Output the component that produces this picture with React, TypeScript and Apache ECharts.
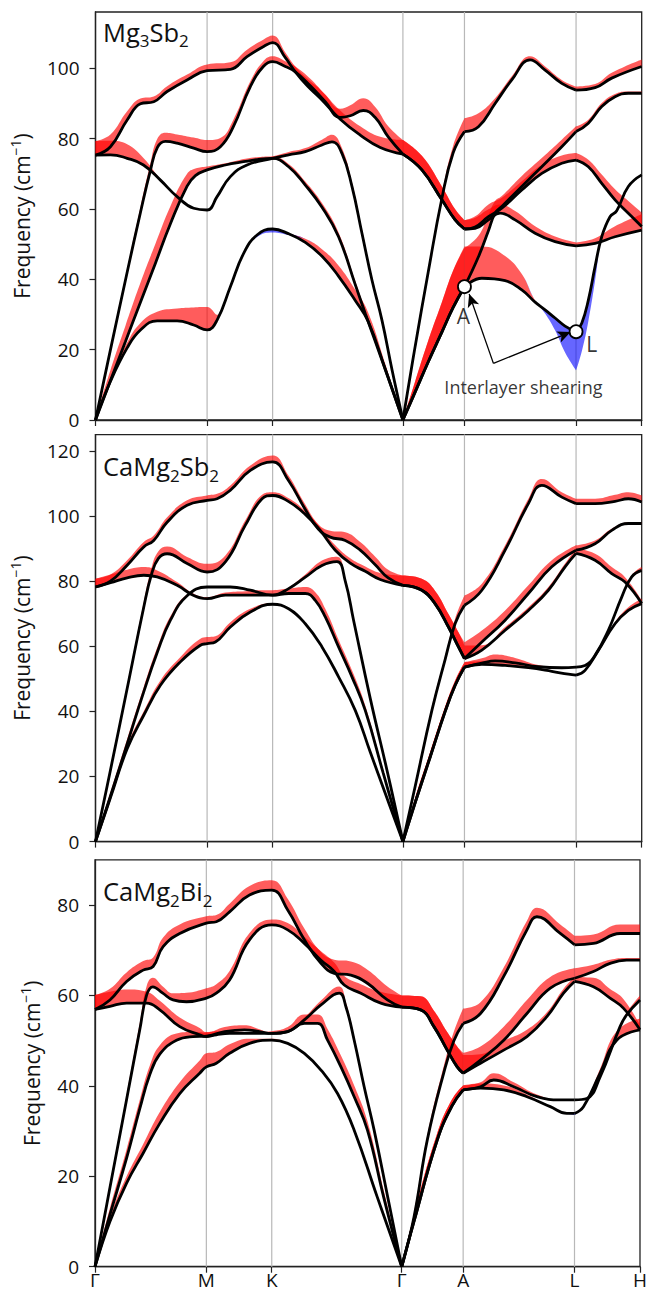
import React, { useEffect, useRef } from 'react';
import * as echarts from 'echarts';

// [path coordinate, frequency (cm^-1), projected weight: >0 red, <0 blue]
type BandPoint = [number, number, number];

const K_POINTS = [0, 111.7, 177.3, 307.7, 369.3, 481, 546.7];
const K_LABELS = ['Γ', 'M', 'K', 'Γ', 'A', 'L', 'H'];
// bands are drawn piecewise between these path points (kinks at Γ, A, L)
const SEGMENT_BREAKS = [0, 307.7, 369.3, 481, 546.7];
const Y_MAX = [116, 125, 90];
const Y_TICKS = [
  [0, 20, 40, 60, 80, 100],
  [0, 20, 40, 60, 80, 100, 120],
  [0, 20, 40, 60, 80],
];

// ---------------- Mg3Sb2 ----------------
const MG3SB2_BAND_1: BandPoint[] = [
  [0, 0, 0.3], [15, 11, 0.8], [31.7, 20.5, 1.5], [45, 25.6, 2], [61.7, 28.2, 2.6], [81.7, 28.2, 3.5],
  [98.3, 27, 5], [111.7, 25.6, 6.5], [121.7, 28.4, 1.5], [135, 37.9, 0.3], [148.3, 47.4, 0],
  [161.7, 52.6, -0.6], [177.3, 54.3, -1], [193, 53, -0.4], [210, 50.5, 1], [227, 46.5, 2], [243, 41, 3],
  [260, 34, 3], [273, 28, 2.5], [290, 14.5, 1.5], [307.7, 0, 0],
  [320, 8, 3], [333, 16.5, 6], [346.7, 25, 8.5], [358, 32, 10.5], [369.3, 37.9, 11.4],
  [386.7, 40.3, 9], [410, 39.6, 7], [426.7, 37, 4.5], [440, 33.5, 0.5], [450, 31.3, -1], [460, 29, -3.5],
  [470, 26.7, -7.5], [481, 25.1, -11],
  [486.7, 27.5, -8], [493.3, 34.1, -6], [500, 43.6, -4], [506.7, 52.1, 0], [515, 57.8, 0], [521.7, 59.5, 0],
  [533.3, 66.4, 0], [546.7, 69.7, 0],
];
const MG3SB2_BAND_2: BandPoint[] = [
  [0, 0, 0.5], [15, 11.2, 3], [30, 22.3, 4.5], [45, 33.5, 5.5], [60, 44.6, 5.5], [75, 55.8, 5], [91.7, 66.5, 3.5],
  [100, 69.5, 2], [111.7, 71.1, 1], [130, 72.5, 0.5], [150, 73.5, 0.8], [165, 74.2, 0.6], [177.3, 74.4, 0.5],
  [193.3, 72, 0.8], [210, 66.8, 1], [226.7, 60.5, 1.2], [243.3, 52.1, 1.2], [260, 38.5, 1], [270, 30.3, 1],
  [288, 16, 0.8], [307.7, 0, 0],
  [320, 8, 3], [333, 16.5, 6], [346.7, 25, 8.5], [358, 32, 10.5], [369.3, 37.9, 11],
  [383.3, 46.4, 6], [393.3, 53.8, 4.5], [400, 58.8, 3.5], [406.7, 60.7, 3], [426.7, 66.4, 3], [446.7, 72, 2.5],
  [466.7, 77.7, 2], [481, 82, 1.5],
  [493.3, 84.4, 1], [506.7, 89.1, 1], [520, 91.9, 0.8], [533.3, 92.9, 0.5], [546.7, 92.9, 0.5],
];
const MG3SB2_BAND_3: BandPoint[] = [
  [0, 0, 0.5], [15, 20, 0.8], [31.7, 42, 1], [45, 59, 1.5], [55, 71, 2], [62, 77.5, 2.5], [70, 79.2, 2.5],
  [81.7, 78.7, 2.5], [98.3, 77.3, 3], [111.7, 76.3, 3.3], [125, 77.7, 2.5], [138, 83.4, 2], [155, 94.8, 1.5],
  [168, 100.5, 1.5], [177.3, 101.9, 1.5], [190, 100.5, 1.5], [200, 99, 1.5], [215, 95, 2], [230, 90.5, 2],
  [245, 86, 2.5], [255, 86.5, 3], [268, 88, 3.5], [280, 86, 3], [293, 80.5, 3], [307.7, 75.6, 4],
  [326.7, 71.1, 4], [346.7, 62.6, 3.8], [360, 56.9, 3], [369.3, 54.3, 2.5],
  [380, 54.9, 3], [393.3, 57.8, 3.5], [406.7, 60.2, 3], [426.7, 65.4, 2.5], [446.7, 70.1, 2.5],
  [466.7, 73, 2.2], [481, 73.9, 2],
  [493.3, 72, 2], [506.7, 67.3, 2.5], [520, 62.6, 3], [533.3, 58.8, 3.5], [546.7, 55, 4],
];
const MG3SB2_BAND_4: BandPoint[] = [
  [0, 75.3, 4], [15, 75.4, 4], [31.7, 74.4, 4], [48, 72.5, 2], [65, 68.2, 0.3], [81.7, 63.5, 0],
  [98.3, 60.2, 0], [111.7, 59.7, 0], [121.7, 63.5, 0], [135, 69.2, 0], [151.7, 72.5, 0.3], [177.3, 74.4, 0.5],
  [193.3, 75.4, 0.8], [210, 76.3, 1], [226.7, 78.2, 1.5], [236.7, 79.1, 2], [246.7, 75.8, 1.5],
  [256.7, 66.4, 1.2], [266.7, 53.1, 1.2], [276.7, 39.8, 1], [286.7, 28.4, 1], [297, 14, 0.5], [307.7, 0, 0],
  [320, 21, 1], [333, 42, 1], [346.7, 63, 1.2], [358, 76, 2], [369.3, 82, 3.8],
  [383.3, 83.4, 3.8], [400, 90, 1.5], [416.7, 96.7, 1], [435, 102.4, 1], [450, 99.5, 1], [466.7, 95.7, 1],
  [481, 93.8, 1],
  [500, 94.5, 1], [516.7, 97.2, 1.5], [546.7, 100.5, 2],
];
const MG3SB2_BAND_5: BandPoint[] = [
  [0, 75.3, 4], [15, 77.7, 3.5], [31.7, 85.3, 2.5], [45, 89.9, 1.5], [58.3, 90.5, 1.5], [71.7, 93.4, 1.5],
  [91.7, 96.7, 1.5], [111.7, 99.3, 1.8], [135, 99.7, 2], [151.7, 103.3, 2], [168.3, 106.2, 2],
  [177.3, 107.3, 2], [190, 103, 1.5], [200, 99, 1.5], [212, 95, 2], [225, 91.5, 2.5], [245, 85.5, 2.5],
  [265, 81, 2.5], [285, 77.5, 3], [307.7, 75.6, 4],
  [326.7, 71.1, 4], [346.7, 62.6, 3.8], [360, 56.9, 3], [369.3, 54.3, 2.5],
  [380, 54.5, 3], [393.3, 56.9, 3], [405, 58.8, 2.5], [420, 56.9, 2.5], [440, 53.1, 2], [460, 50.7, 1.5],
  [481, 49.5, 1],
  [500, 50.2, 1.5], [520, 52.1, 3], [546.7, 54, 4.5],
];

// ---------------- CaMg2Sb2 ----------------
const CAMG2SB2_BAND_1: BandPoint[] = [
  [0, 0, 0.3], [15, 13.5, 0.8], [31.7, 28.5, 1], [48.3, 38.8, 1.2], [65, 48, 1.5], [85, 55.2, 1.5],
  [105, 60.3, 2], [111.7, 60.8, 2], [120, 61.3, 1.8], [135, 65.9, 1.5], [155, 70.5, 1], [177.3, 72.9, 0.3],
  [193.3, 71.5, 0], [210, 66.9, 0], [226.7, 59.8, 0], [243.3, 50.6, 0], [260, 40.3, 0], [275, 27.5, 0],
  [291, 14, 0], [307.7, 0, 0],
  [320, 12, 1.5], [335, 26, 1.5], [350, 40, 1.5], [360, 48, 1.5], [369.3, 53.6, 1.5],
  [386.7, 54.4, 1], [410, 54.1, 1], [433.3, 53.4, 0.5], [456.7, 52.3, 0], [473.3, 51.4, 0], [481, 51.1, -0.3],
  [490, 52.6, 0], [503.3, 58.7, 0], [520, 66.9, 0.5], [533.3, 71, 1], [546.7, 73.1, 1.5],
];
const CAMG2SB2_BAND_2: BandPoint[] = [
  [0, 0, 0.5], [15, 14, 1.2], [31.7, 30, 1.5], [48.3, 46, 1.5], [61.7, 58, 1.5], [75, 68, 1.2],
  [91.7, 75.5, 0.5], [111.7, 78.2, 0], [135, 78.2, 0], [155, 77.2, 0], [177.3, 75.7, 0], [193.3, 77.7, 0.3],
  [210, 81.2, 0.8], [226.7, 84.8, 1.5], [241.7, 86, 1.5], [250, 80, 1], [258.3, 68, 0.8], [275, 44, 0.5],
  [291.7, 22, 0.3], [307.7, 0, 0],
  [320, 12, 1.5], [335, 26, 1.5], [350, 40, 1.5], [360, 48, 1.5], [369.3, 53.6, 1.5],
  [386.7, 54.8, 1.5], [400, 55.5, 2], [420, 54.9, 1.5], [443.3, 53.7, 0.5], [466.7, 53.4, 0], [481, 53.6, 0],
  [490, 54.1, 0], [500, 57.2, 0], [513.3, 64.9, 0], [526.7, 75.1, 0], [536.7, 81.3, 0.5], [546.7, 83.3, 1],
];
const CAMG2SB2_BAND_3: BandPoint[] = [
  [0, 0, 0.5], [15, 22, 0.8], [31.7, 47, 1], [48.3, 72, 1.5], [56, 82, 2], [63, 87, 2.2], [71.7, 88.4, 2.2],
  [91.7, 85.4, 2], [111.7, 82.8, 2.5], [130, 85.9, 2], [150, 97.2, 1.5], [166.7, 105.3, 1.2],
  [177.3, 106.3, 1], [193, 104.5, 1], [210, 100.5, 1], [225, 95.5, 1], [240, 89.5, 1.5], [255, 85.5, 1.5],
  [270, 83, 1.5], [285, 80.5, 2], [307.7, 78.7, 3],
  [326.7, 77.2, 3.5], [340, 73, 4], [353.3, 65.9, 4], [363.3, 59.8, 4.5], [369.3, 56.2, 5],
  [386.7, 61.3, 3.5], [410, 68, 3], [433.3, 76.2, 2.5], [456.7, 84.4, 2], [481, 89.5, 1.5],
  [500, 91.5, 1], [516.7, 95.6, 0.5], [533.3, 97.7, 0.3], [546.7, 97.7, 0.3],
];
const CAMG2SB2_BAND_4: BandPoint[] = [
  [0, 78.2, 2.5], [15, 79.5, 2.5], [31.7, 81, 2.5], [48.3, 81.8, 2.5], [61.7, 81.3, 2], [81.7, 78.7, 1],
  [98.3, 75.6, 0.5], [111.7, 74.6, 0.5], [130, 75.7, 0.8], [150, 75.7, 1.2], [165, 75.7, 1.5],
  [177.3, 75.7, 1.5], [193.3, 76.2, 1.5], [210, 76.2, 2], [220, 74.1, 2.5], [230, 69, 2.5],
  [243.3, 59.8, 2.2], [256.7, 50.6, 2], [270, 40.3, 1.5], [288, 21, 1], [307.7, 0, 0],
  [320, 17, 1], [336.7, 40.3, 1], [350, 56, 1], [360, 67, 1.5], [369.3, 72.6, 3],
  [386.7, 77.2, 2], [410, 89.5, 1.5], [433.3, 103.8, 1.5], [446.7, 109.4, 2], [466.7, 105.8, 1.5],
  [481, 103.8, 1.5],
  [500, 103.8, 1.5], [520, 104.5, 2], [533.3, 105.3, 2], [546.7, 104.3, 2],
];
const CAMG2SB2_BAND_5: BandPoint[] = [
  [0, 78.2, 2.5], [15, 80, 2], [31.7, 84.9, 1.5], [48.3, 90.5, 1.5], [58.3, 92.5, 1.5], [71.7, 98.1, 1.5],
  [91.7, 103.3, 1.5], [111.7, 104.8, 1.5], [121.7, 105.3, 1.5], [135, 107.9, 1.5], [155, 114, 1.5],
  [177.3, 116.6, 2], [193, 111, 1.5], [210, 102, 1.5], [223, 96, 1.5], [235, 93.5, 2], [250, 92.5, 2.5],
  [265, 89.5, 2.5], [280, 85, 2.5], [293, 81, 2.5], [307.7, 78.7, 3],
  [326.7, 77.2, 3.5], [340, 73, 4], [353.3, 65.9, 4], [363.3, 59.8, 4.5], [369.3, 56.2, 4],
  [386.7, 58.8, 1.5], [410, 64.9, 1], [433.3, 71, 1], [453.3, 77.2, 1], [470, 84.4, 1], [481, 88.5, 1.5],
  [500, 86.4, 2], [516.7, 82.3, 2], [530, 79.7, 1.5], [546.7, 73.1, 1],
];

// ---------------- CaMg2Bi2 ----------------
const CAMG2BI2_BAND_1: BandPoint[] = [
  [0, 0, 0.3], [15, 10, 1], [31.7, 18.5, 1.5], [48.3, 25.1, 2], [65, 31.7, 2.5], [85, 38.3, 2.5],
  [105, 42.8, 2.8], [111.7, 44.2, 3], [121.7, 45, 2.5], [135, 47.2, 2], [155, 49.4, 1], [177.3, 50.1, 0.3],
  [193.3, 49.4, 0], [210, 47.2, 0], [226.7, 43.5, 0], [243.3, 38.3, 0], [260, 30.2, 0], [283, 15.5, 0],
  [307.7, 0, 0],
  [320, 10, 1.5], [343.3, 28, 1.5], [358, 35.5, 1.5], [369.3, 39.1, 1],
  [386.7, 39.5, 1], [410, 39.1, 1], [433.3, 37.6, 0.5], [456.7, 35.4, 0], [473.3, 33.9, 0], [481, 33.9, -0.3],
  [490, 35.4, 0], [506.7, 42.8, 1], [523.3, 50.1, 2], [546.7, 52.4, 2.5],
];
const CAMG2BI2_BAND_2: BandPoint[] = [
  [0, 0, 0.5], [15, 11.5, 1.5], [31.7, 24, 2], [45, 35, 2], [55, 42.5, 2], [65, 47, 2], [81.7, 50.1, 1.5],
  [98.3, 50.9, 1], [111.7, 51, 0.8], [130, 52, 1], [150, 52.4, 1], [165, 52, 0.5], [177.3, 51.6, 0],
  [193.3, 52, 0], [210, 54.6, 0.5], [226.7, 57.9, 1], [245, 60.5, 1.5], [251.7, 57.5, 1], [260, 50.1, 0.8],
  [270, 39.8, 0.5], [280, 30.2, 0.3], [294, 15, 0.2], [307.7, 0, 0],
  [320, 10, 1.5], [343.3, 28, 1.5], [358, 35.5, 1.5], [369.3, 39.1, 1],
  [386.7, 39.8, 1], [400, 41.3, 1.5], [420, 39.8, 1], [443.3, 37.6, 0.5], [466.7, 36.9, 0], [481, 36.9, 0],
  [493.3, 37.2, 0], [506.7, 42, 0], [526.7, 53.1, 0], [533.3, 55.7, 0.5], [546.7, 59, 1],
];
const CAMG2BI2_BAND_3: BandPoint[] = [
  [0, 0, 0.5], [15, 17.5, 0.8], [31.7, 37, 1], [45, 52.5, 1.5], [51.7, 60, 2], [58, 61.9, 2], [68, 60.5, 1.5],
  [78.3, 59, 1.5], [91.7, 58.6, 2], [111.7, 59.4, 2.2], [121.7, 60.5, 2], [135, 63.4, 2], [155, 72.3, 1.5],
  [177.3, 75.6, 1.2], [193.3, 74.5, 1.5], [210, 71.5, 1.5], [226.7, 67.8, 2], [240, 65.3, 2], [250, 62.3, 2],
  [266.7, 60.5, 2], [286.7, 58.3, 2.5], [307.7, 57.4, 2.6],
  [326.7, 56.8, 3], [340, 53.1, 3.5], [353.3, 47.9, 4], [363.3, 44.2, 4.5], [369.3, 42.8, 4.5],
  [386.7, 45.7, 3], [410, 50.1, 3], [433.3, 56, 3], [456.7, 61.6, 2.5], [481, 63.8, 2.2],
  [500, 65.3, 1.5], [516.7, 67.1, 0.8], [533.3, 67.8, 0.5], [546.7, 67.8, 0.5],
];
const CAMG2BI2_BAND_4: BandPoint[] = [
  [0, 56.9, 3.2], [15, 57.6, 3.2], [31.7, 58.3, 3], [51.7, 58.3, 2.5], [65, 56.8, 2], [85, 53.1, 2],
  [105, 51.3, 1.5], [111.7, 50.9, 1], [121.7, 51.3, 0.8], [135, 51.6, 0.5], [155, 51.6, 0.3],
  [177.3, 51.6, 0.5], [193.3, 52, 1], [210, 53.8, 2], [223.3, 53.8, 2], [233.3, 50.1, 2.5],
  [246.7, 44.2, 2.5], [260, 37.6, 2.5], [273.3, 30.2, 2], [290, 15, 1.5], [307.7, 0, 0],
  [320, 11, 1], [333.3, 28, 1], [350, 43, 1.5], [360, 50, 2], [369.3, 53.8, 3.3],
  [386.7, 56, 2.5], [410, 64.2, 2], [433.3, 74.5, 2], [443.3, 77.4, 2], [466.7, 73.7, 2], [481, 71.2, 2],
  [500, 71.5, 2], [526.7, 73.7, 2], [546.7, 73.7, 2],
];
const CAMG2BI2_BAND_5: BandPoint[] = [
  [0, 56.9, 3.2], [15, 59, 2.5], [31.7, 63.1, 2], [48.3, 65.6, 2], [58.3, 66.4, 2], [68.3, 70.8, 2],
  [85, 73.7, 2], [111.7, 76, 1.5], [121.7, 76.3, 1.5], [135, 78.5, 1.8], [155, 82.2, 2], [177.3, 83.3, 2.2],
  [193.3, 78.9, 2.5], [210, 72.3, 2.5], [226.7, 67.1, 2.5], [240, 64.9, 3], [256.7, 64.5, 3],
  [273.3, 62.7, 3], [293.3, 59, 3], [307.7, 57.4, 2.6],
  [326.7, 56.8, 3], [340, 53.1, 3.5], [353.3, 47.9, 4], [363.3, 44.2, 4.5], [369.3, 42.8, 4],
  [386.7, 45, 2], [410, 47.9, 2], [433.3, 50.9, 1.5], [453.3, 55.3, 1], [470, 60.5, 1], [481, 63.1, 1],
  [500, 61.9, 2], [516.7, 59.4, 2], [530, 57.2, 2], [546.7, 52.4, 1],
];

const PANEL_BANDS: BandPoint[][][] = [
  [MG3SB2_BAND_1, MG3SB2_BAND_2, MG3SB2_BAND_3, MG3SB2_BAND_4, MG3SB2_BAND_5],
  [CAMG2SB2_BAND_1, CAMG2SB2_BAND_2, CAMG2SB2_BAND_3, CAMG2SB2_BAND_4, CAMG2SB2_BAND_5],
  [CAMG2BI2_BAND_1, CAMG2BI2_BAND_2, CAMG2BI2_BAND_3, CAMG2BI2_BAND_4, CAMG2BI2_BAND_5],
];

// compound names, rich-text markup (n = normal, s = subscript)
const PANEL_TITLES = ['{n|Mg}{s|3}{n|Sb}{s|2}', '{n|CaMg}{s|2}{n|Sb}{s|2}', '{n|CaMg}{s|2}{n|Bi}{s|2}'];

// interlayer shearing annotation (Mg3Sb2 panel)
const SHEAR_POINTS = [[369.3, 37.9], [481, 25.1]];
const ARROW_ORIGIN = [398.3, 16.1];
const ARROW_TIPS = [[374, 35.8], [475.5, 25.0]];
const ANNOTATION_TEXTS: { text: string; at: number[] }[] = [
  { text: 'A', at: [368.3, 29.6] },
  { text: 'L', at: [496.7, 21.6] },
  { text: 'Interlayer shearing', at: [428.3, 9.5] },
];

const FONT = '"Open Sans", "Noto Sans", "DejaVu Sans", sans-serif';
const RED = 'rgba(255, 0, 0, 0.64)';
const BLUE = 'rgba(0, 0, 255, 0.6)';
const FRAME = '#222';

const GRIDS = [
  { top: 12, height: 408 },
  { top: 434.6, height: 407 },
  { top: 859.8, height: 406.9 },
];

// Values are stored as [frequency, k] so that stacking runs on the frequency
// dimension; encode maps them back onto the axes.
function bandSeries(panel: number, bandIdx: number, pts: BandPoint[]) {
  const out: any[] = [];
  for (let s = 0; s < SEGMENT_BREAKS.length - 1; s++) {
    const lo = SEGMENT_BREAKS[s];
    const hi = SEGMENT_BREAKS[s + 1];
    const seg = pts.filter((p) => p[0] >= lo - 1e-6 && p[0] <= hi + 1e-6);
    if (seg.length < 2) continue;
    const stackId = `p${panel}-b${bandIdx}-s${s}`;
    const common = {
      type: 'line',
      xAxisIndex: panel,
      yAxisIndex: panel,
      smooth: 0.45,
      showSymbol: false,
      symbol: 'none',
      silent: true,
      stack: stackId,
      stackStrategy: 'all',
      encode: { x: 1, y: 0 },
    };
    out.push({
      ...common,
      data: seg.map((p) => [p[1], p[0]]),
      lineStyle: { color: '#000', width: 2.8 },
      z: 5,
    });
    if (seg.some((p) => p[2] > 0)) {
      out.push({
        ...common,
        data: seg.map((p) => [Math.max(0, p[2]), p[0]]),
        lineStyle: { width: 0, opacity: 0 },
        areaStyle: { color: RED, opacity: 1 },
        z: 2,
      });
    }
    if (seg.some((p) => p[2] < 0)) {
      out.push({
        ...common,
        data: seg.map((p) => [Math.min(0, p[2]), p[0]]),
        lineStyle: { width: 0, opacity: 0 },
        areaStyle: { color: BLUE, opacity: 1 },
        z: 2,
      });
    }
  }
  return out;
}

function kLabel(v: number) {
  const i = K_POINTS.findIndex((p) => Math.abs(p - v) < 0.05);
  return i >= 0 ? K_LABELS[i] : '';
}

function buildOption() {
  const series: any[] = [];

  PANEL_BANDS.forEach((bands, panel) => {
    // vertical guides at the interior high-symmetry points
    K_POINTS.slice(1, -1).forEach((k) => {
      series.push({
        type: 'line',
        xAxisIndex: panel,
        yAxisIndex: panel,
        data: [[k, 0], [k, Y_MAX[panel]]],
        showSymbol: false,
        symbol: 'none',
        silent: true,
        lineStyle: { color: '#b8b8b8', width: 1.2 },
        z: 1,
      });
    });
    bands.forEach((b, i) => series.push(...bandSeries(panel, i, b)));
  });

  // open circles at A and L with arrows from the annotation
  series.push({
    type: 'scatter',
    xAxisIndex: 0,
    yAxisIndex: 0,
    data: SHEAR_POINTS,
    symbol: 'circle',
    symbolSize: 13,
    silent: true,
    itemStyle: { color: '#fff', borderColor: '#000', borderWidth: 1.8, opacity: 1 },
    z: 10,
    markLine: {
      silent: true,
      symbol: ['none', 'arrow'],
      symbolSize: [9, 13],
      label: { show: false },
      lineStyle: { color: '#000', width: 1.3, type: 'solid', opacity: 1 },
      z: 9,
      data: ARROW_TIPS.map((tip) => [{ coord: ARROW_ORIGIN }, { coord: tip }]),
    },
  });
  series.push({
    type: 'scatter',
    xAxisIndex: 0,
    yAxisIndex: 0,
    silent: true,
    symbolSize: 1,
    itemStyle: { color: 'transparent' },
    z: 11,
    data: ANNOTATION_TEXTS.map((t) => ({
      value: t.at,
      label: {
        show: true,
        position: 'inside',
        formatter: t.text,
        fontSize: t.text.length > 1 ? 18 : 21,
        color: '#000',
        fontFamily: FONT,
      },
    })),
  });

  const grid = GRIDS.map((g) => ({
    left: 95,
    width: 546.7,
    top: g.top,
    height: g.height,
    show: true,
    borderColor: FRAME,
    borderWidth: 1.3,
    backgroundColor: 'transparent',
  }));

  const xAxis = GRIDS.map((_, i) => ({
    type: 'value',
    gridIndex: i,
    min: 0,
    max: 546.7,
    axisLine: { show: true, lineStyle: { color: FRAME, width: 1.3 } },
    axisTick: { show: true, customValues: K_POINTS, length: 6, lineStyle: { color: FRAME, width: 1.2 } },
    axisLabel: {
      show: i === 2,
      customValues: K_POINTS,
      formatter: (v: number) => kLabel(v),
      fontSize: 19,
      color: '#111',
      fontFamily: FONT,
      margin: 4,
    },
    splitLine: { show: false },
  }));

  const yAxis = GRIDS.map((_, i) => ({
    type: 'value',
    gridIndex: i,
    min: 0,
    max: Y_MAX[i],
    name: 'Frequency (cm{sup|−1})',
    nameLocation: 'middle',
    nameGap: i === 2 ? 33 : 45,
    nameTextStyle: {
      fontSize: 21,
      color: '#111',
      fontFamily: FONT,
      lineHeight: 28,
      rich: {
        sup: { fontSize: 14, lineHeight: 14, verticalAlign: 'top', color: '#111', fontFamily: FONT },
      },
    },
    axisLine: { show: true, lineStyle: { color: FRAME, width: 1.3 } },
    axisTick: { show: true, customValues: Y_TICKS[i], length: 6, lineStyle: { color: FRAME, width: 1.2 } },
    axisLabel: { customValues: Y_TICKS[i], fontSize: 19, color: '#111', fontFamily: FONT, margin: 16 },
    splitLine: { show: false },
  }));

  const titleTops = [14, 448.5, 873.5];
  const title = PANEL_TITLES.map((t, i) => ({
    text: t,
    left: 103,
    top: titleTops[i],
    padding: 0,
    textStyle: {
      fontWeight: 'normal',
      rich: {
        n: { fontSize: 25.5, lineHeight: 35, verticalAlign: 'middle', color: '#111', fontFamily: FONT, fontWeight: 'normal' },
        s: { fontSize: 17, lineHeight: 17, verticalAlign: 'bottom', color: '#111', fontFamily: FONT, fontWeight: 'normal' },
      },
    },
  }));

  return {
    animation: false,
    backgroundColor: '#fff',
    textStyle: { fontFamily: FONT },
    title,
    grid,
    xAxis,
    yAxis,
    series,
  };
}

export default function App() {
  const ref = useRef<HTMLDivElement>(null);
  useEffect(() => {
    document.body.style.margin = '0';
    if (!ref.current) return;
    const chart = echarts.init(ref.current, undefined, { renderer: 'svg' });
    chart.setOption(buildOption() as any);
    return () => chart.dispose();
  }, []);
  return <div ref={ref} style={{ width: 650, height: 1294 }} />;
}
